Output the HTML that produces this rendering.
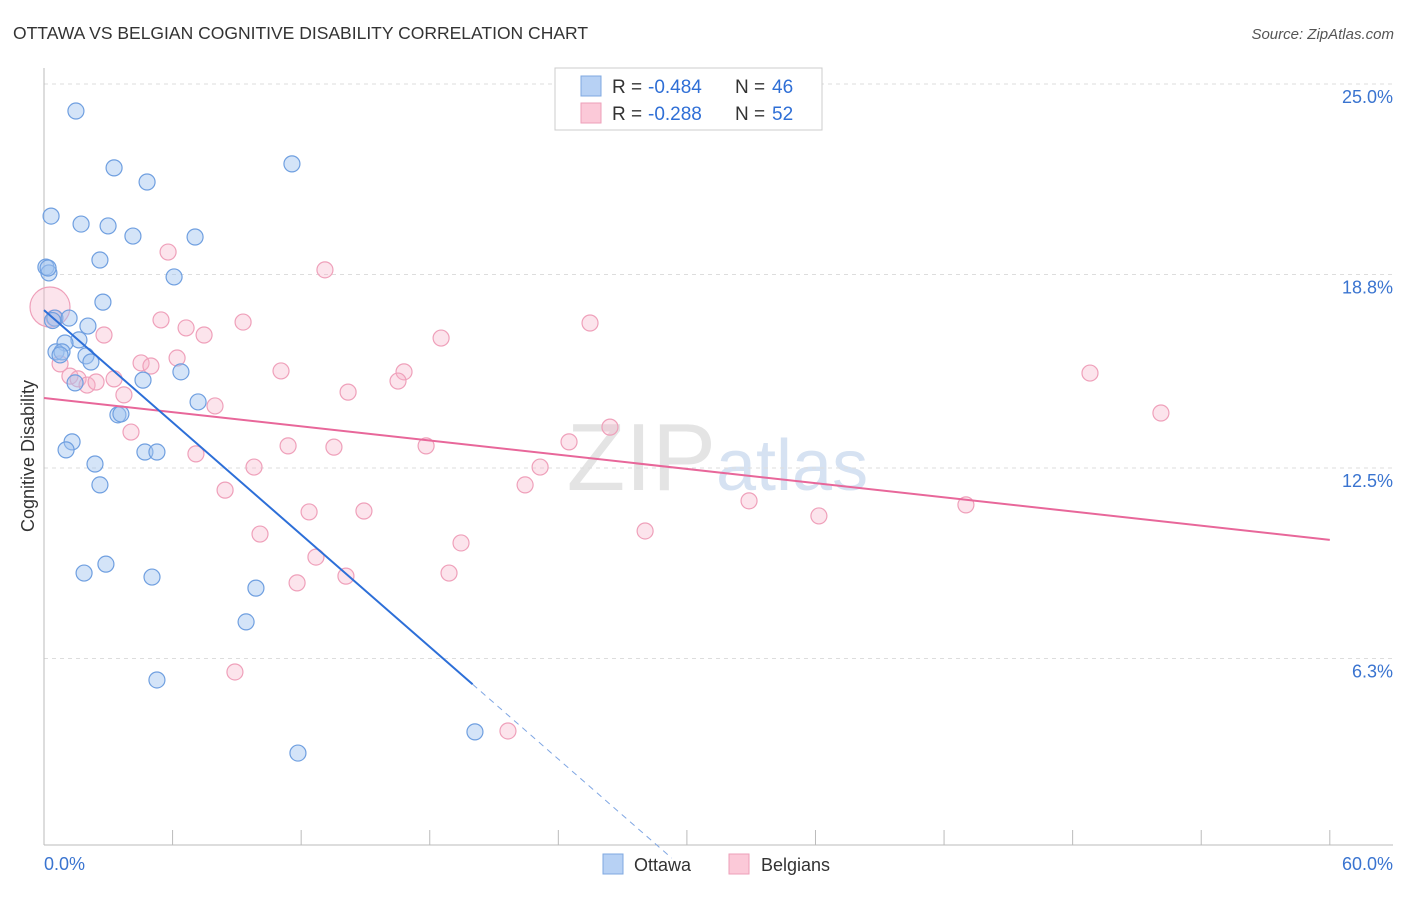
<!DOCTYPE html>
<html><head><meta charset="utf-8"><style>
body{margin:0;background:#fff;font-family:"Liberation Sans",sans-serif}
svg text{font-family:"Liberation Sans",sans-serif}
</style></head><body>
<svg width="1406" height="892" viewBox="0 0 1406 892">
<text x="13" y="39" font-size="17.5" fill="#333">OTTAWA VS BELGIAN COGNITIVE DISABILITY CORRELATION CHART</text>
<text x="1394" y="39" font-size="15" fill="#555" font-style="italic" text-anchor="end">Source: ZipAtlas.com</text>
<text x="716" y="490" font-size="96" fill="#e4e4e4" text-anchor="end" font-family="Liberation Serif">ZIP</text>
<text x="716" y="490" font-size="72" fill="#d6e2f2">atlas</text>
<g id="grid"></g>
<g id="axes"></g>
<text transform="translate(34,456) rotate(-90)" font-size="18" fill="#333" text-anchor="middle">Cognitive Disability</text>
<g id="marks"></g>
<g>
<rect x="555" y="68" width="267" height="62" fill="#fff" stroke="#ccc"/>
<rect x="581" y="76" width="20" height="20" fill="#b7d1f4" stroke="#7fa8e0"/>
<rect x="581" y="103" width="20" height="20" fill="#fbc9d8" stroke="#ee9fb9"/>
<text x="612" y="93" font-size="19" fill="#333">R =</text>
<text x="648" y="93" font-size="19" fill="#2f6fd6">-0.484</text>
<text x="735" y="93" font-size="19" fill="#333">N =</text>
<text x="772" y="93" font-size="19" fill="#2f6fd6">46</text>
<text x="612" y="120" font-size="19" fill="#333">R =</text>
<text x="648" y="120" font-size="19" fill="#2f6fd6">-0.288</text>
<text x="735" y="120" font-size="19" fill="#333">N =</text>
<text x="772" y="120" font-size="19" fill="#2f6fd6">52</text>
</g>
<g>
<rect x="603" y="854" width="20" height="20" fill="#b7d1f4" stroke="#7fa8e0"/>
<text x="634" y="871" font-size="18" fill="#333">Ottawa</text>
<rect x="729" y="854" width="20" height="20" fill="#fbc9d8" stroke="#ee9fb9"/>
<text x="761" y="871" font-size="18" fill="#333">Belgians</text>
</g>
</svg>
<script>
const yTicks=[25.0,18.8,12.5,6.3];
const yTickLabels=["25.0%","18.8%","12.5%","6.3%"];
const xTickLabels=["0.0%","60.0%"];
const ottawaX=[1.49,3.27,4.81,11.57,0.33,1.73,2.99,4.15,7.05,0.09,0.23,2.61,6.07,2.75,0.51,1.17,2.05,1.63,0.98,0.56,0.84,1.96,2.19,0.75,1.45,4.62,6.39,7.19,3.45,3.59,1.31,1.03,4.71,5.27,2.38,2.61,1.87,2.89,5.04,9.89,9.43,5.27,11.85,20.11,0.4,0.19];
const ottawaY=[24.12,22.27,21.81,22.40,20.70,20.44,20.38,20.05,20.02,19.04,18.85,19.27,18.72,17.90,17.38,17.38,17.12,16.67,16.57,16.28,16.28,16.15,15.95,16.18,15.27,15.36,15.63,14.65,14.23,14.26,13.35,13.09,13.02,13.02,12.63,11.95,9.08,9.37,8.95,8.59,7.49,5.60,3.22,3.91,17.3,19.01];
const belgX=[0.28,0.47,5.79,13.11,5.46,6.63,9.29,25.48,2.80,7.47,18.53,0.75,4.53,4.99,6.21,1.21,1.59,2.01,3.27,2.43,11.06,16.80,16.52,48.81,3.73,14.19,7.98,52.12,4.06,26.41,11.39,13.53,17.83,24.50,7.09,9.80,23.15,8.45,22.45,12.37,14.93,32.90,43.02,36.16,28.05,10.08,19.46,12.69,14.09,18.90,11.81,8.91,21.65];
const belgY=[17.74,17.38,19.53,18.95,17.32,17.06,17.25,17.22,16.83,16.83,16.73,15.89,15.92,15.82,16.08,15.49,15.40,15.20,15.40,15.30,15.66,15.63,15.33,15.59,14.88,14.97,14.52,14.29,13.67,13.83,13.22,13.18,13.22,13.35,12.96,12.53,12.53,11.78,11.95,11.07,11.10,11.43,11.30,10.94,10.45,10.35,10.06,9.60,8.98,9.08,8.76,5.86,3.94];
const ottawaTrend=[17.64,-0.609];
const belgTrend=[14.78,-0.077];
const NS="http://www.w3.org/2000/svg";
const X=v=>44+v*21.43, Y=v=>84+(25-v)*30.72;
function mk(p,t,a){const e=document.createElementNS(NS,t);for(const k in a)e.setAttribute(k,a[k]);p.appendChild(e);return e;}
const grid=document.getElementById('grid'),axes=document.getElementById('axes'),marks=document.getElementById('marks');
yTicks.forEach((t,i)=>{
 const l=mk(grid,'line',{x1:44,x2:1393,y1:Y(t),y2:Y(t),stroke:'#ddd','stroke-dasharray':'4,4'});
 
 
 const tx=mk(grid,'text',{x:1393,y:Y(t)+19,'font-size':18,fill:'#3a74d0','text-anchor':'end'});
 tx.textContent=yTickLabels[i];
 
 
});
mk(axes,'line',{x1:44,x2:44,y1:68,y2:845,stroke:'#bbb'});
mk(axes,'line',{x1:44,x2:1393,y1:845,y2:845,stroke:'#bbb'});
for(let i=0;i<=10;i++){mk(axes,'line',{x1:X(i*6),x2:X(i*6),y1:830,y2:845,stroke:'#bbb'});}
const xl0=mk(axes,'text',{x:44,y:870,'font-size':18,fill:'#3a74d0'});xl0.textContent=xTickLabels[0];


const xl1=mk(axes,'text',{x:1393,y:870,'font-size':18,fill:'#3a74d0','text-anchor':'end'});xl1.textContent=xTickLabels[1];


belgX.forEach((x,i)=>{
 const c=mk(marks,'circle',{cx:X(x),cy:Y(belgY[i]),r:i===0?20:8,fill:'rgba(247,178,200,0.35)',stroke:'#efa0ba','stroke-width':1.2});
 
 
});
ottawaX.forEach((x,i)=>{
 const c=mk(marks,'circle',{cx:X(x),cy:Y(ottawaY[i]),r:8,fill:'rgba(160,196,240,0.45)',stroke:'#6f9fe0','stroke-width':1.2});
 
 
});
const bt=mk(marks,'line',{x1:X(0),y1:Y(belgTrend[0]),x2:X(60),y2:Y(belgTrend[0]+belgTrend[1]*60),stroke:'#e8679a','stroke-width':2});


const ot=mk(marks,'line',{x1:X(0),y1:Y(ottawaTrend[0]),x2:X(20),y2:Y(ottawaTrend[0]+ottawaTrend[1]*20),stroke:'#2d6fd8','stroke-width':2});


const xe=(ottawaTrend[0]+0.2)/-ottawaTrend[1];
const od=mk(marks,'line',{x1:X(20),y1:Y(ottawaTrend[0]+ottawaTrend[1]*20),x2:X(xe),y2:Y(ottawaTrend[0]+ottawaTrend[1]*xe),stroke:'#7fa6e3','stroke-width':1,'stroke-dasharray':'6,5'});


</script>
</body></html>
